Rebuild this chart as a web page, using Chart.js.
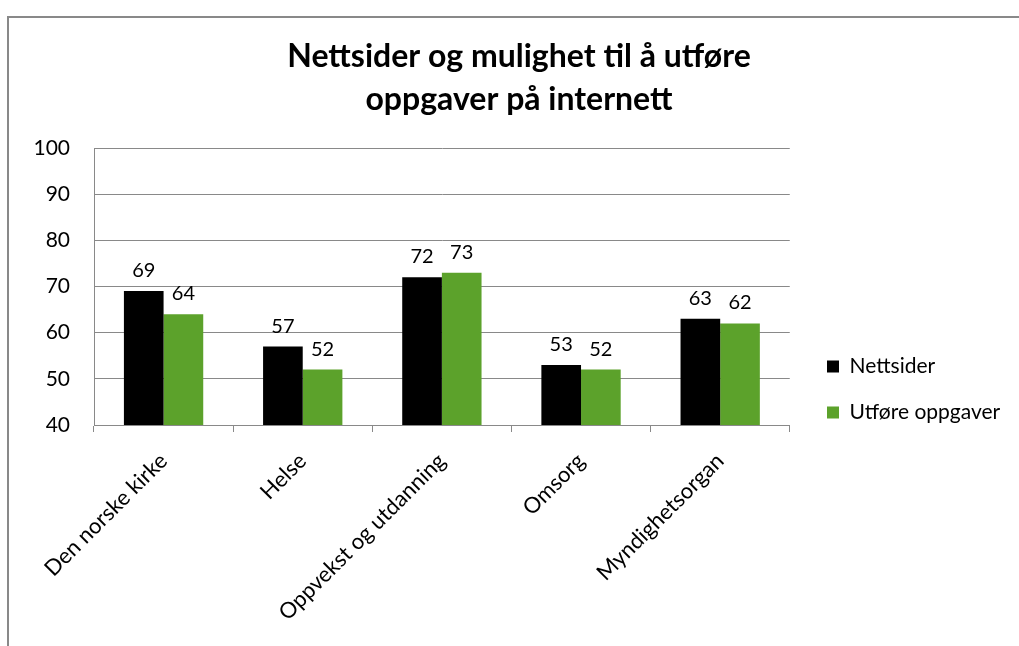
<!DOCTYPE html>
<html>
<head>
<meta charset="utf-8">
<script src="https://cdn.jsdelivr.net/npm/chart.js@4/dist/chart.umd.min.js"></script>
<style>
  html, body { margin: 0; padding: 0; background: #fff; }
  #wrap { position: absolute; left: 0; top: 0; width: 1019px; height: 646px; }
</style>
</head>
<body>
<div id="wrap"><canvas id="c" width="1019" height="646"></canvas></div>
<script>
const titleLines = ["Nettsider og mulighet til å utføre", "oppgaver på internett"];
const categories = ["Den norske kirke", "Helse", "Oppvekst og utdanning", "Omsorg", "Myndighetsorgan"];
const seriesNames = ["Nettsider", "Utføre oppgaver"];
const nettsider = [69, 57, 72, 53, 63];
const utfore = [64, 52, 73, 52, 62];
const yTicks = [40, 50, 60, 70, 80, 90, 100];

const FONT = "Lato, 'Open Sans', sans-serif";

const borderPlugin = {
  id: 'outerBorder',
  beforeDraw(chart) {
    const ctx = chart.ctx;
    ctx.save();
    ctx.fillStyle = '#fff';
    ctx.fillRect(0, 0, chart.width, chart.height);
    ctx.strokeStyle = '#898989';
    ctx.lineWidth = 2;
    ctx.beginPath();
    ctx.moveTo(8, chart.height);
    ctx.lineTo(8, 17);
    ctx.lineTo(chart.width, 17);
    ctx.stroke();
    ctx.restore();
  }
};

const placeBoxes = {
  id: 'placeBoxes',
  afterLayout(chart) {
    const lg = chart.legend;
    if (lg) {
      const w = lg.width;
      lg.left = 802; lg.right = lg.left + w;
      const pad = lg.options.labels.padding;
      const colH = lg.columnSizes && lg.columnSizes[0] ? lg.columnSizes[0].height : 0;
      const y = (lg.top + pad + lg.bottom - colH) / 2;
      const d = 356 - y;
      lg.top += d; lg.bottom += d;
    }
    const tb = chart.titleBlock;
    if (tb) { tb.left += 3; tb.right += 3; }
  }
};

const valueLabels = {
  id: 'valueLabels',
  afterDatasetsDraw(chart) {
    const ctx = chart.ctx;
    ctx.save();
    ctx.font = "20px " + FONT;
    ctx.fillStyle = '#000';
    ctx.textAlign = 'center';
    ctx.textBaseline = 'alphabetic';
    chart.data.datasets.forEach((ds, i) => {
      const meta = chart.getDatasetMeta(i);
      meta.data.forEach((bar, j) => {
        ctx.fillText(String(ds.data[j]), bar.x, bar.y - 14);
      });
    });
    ctx.restore();
  }
};

new Chart(document.getElementById('c'), {
  type: 'bar',
  data: {
    labels: categories,
    datasets: [
      { label: seriesNames[0], data: nettsider, backgroundColor: '#000000', borderWidth: 0 },
      { label: seriesNames[1], data: utfore, backgroundColor: '#5ca22b', borderWidth: 0 }
    ]
  },
  options: {
    responsive: false,
    animation: false,
    devicePixelRatio: 1,
    layout: { padding: { left: 34, right: 21, top: 24, bottom: 0 } },
    datasets: { bar: { categoryPercentage: 0.57, barPercentage: 1.0 } },
    scales: {
      x: {
        offset: true,
        afterFit(scale) { scale.paddingLeft = 0; scale.paddingRight = 0; scale.height = 221; },
        grid: { display: true, drawOnChartArea: false, drawTicks: true, tickLength: 7, color: '#898989', offset: true },
        border: { display: true, color: '#898989', width: 1 },
        ticks: { color: '#000', font: { family: FONT, size: 22 }, maxRotation: 45, minRotation: 45, padding: 16, autoSkip: false }
      },
      y: {
        min: 40, max: 100,
        afterBuildTicks(scale) { scale.ticks = yTicks.map(v => ({ value: v })); },
        afterFit(scale) { scale.width = 60; },
        grid: { color: '#898989', drawTicks: false, lineWidth: 1 },
        border: { display: true, color: '#898989', width: 1 },
        ticks: { color: '#000', font: { family: FONT, size: 21 }, padding: 24 }
      }
    },
    plugins: {
      title: {
        display: true,
        text: titleLines,
        color: '#000',
        font: { family: FONT, size: 32, weight: 'bold', lineHeight: 1.344 },
        padding: { top: 11, bottom: 27 }
      },
      legend: {
        position: 'right',
        align: 'center',
        labels: {
          color: '#000',
          font: { family: FONT, size: 21 },
          boxWidth: 12, boxHeight: 12,
          padding: 25
        }
      },
      tooltip: { enabled: false }
    }
  },
  plugins: [borderPlugin, placeBoxes, valueLabels]
});
</script>
</body>
</html>
